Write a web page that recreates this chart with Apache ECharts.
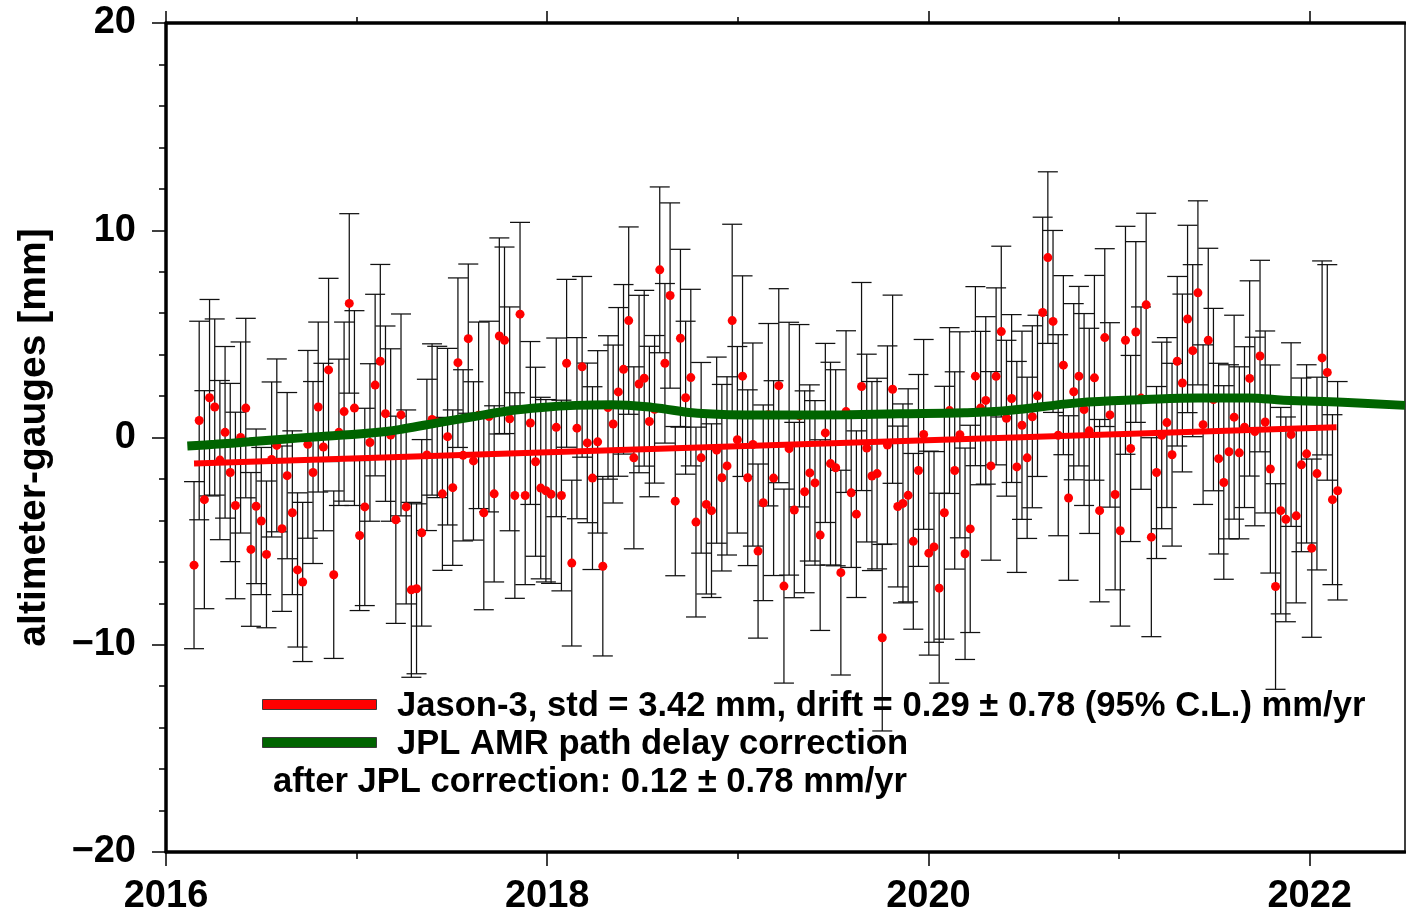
<!DOCTYPE html>
<html>
<head>
<meta charset="utf-8">
<script src="https://cdn.jsdelivr.net/npm/echarts@6/dist/echarts.min.js"></script>
<style>
html,body{margin:0;padding:0;background:#fff;}
#chart{width:1406px;height:916px;}
</style>
</head>
<body>
<div id="chart"></div>
<script>
// Jason-3 altimeter minus tide-gauge differences, one value per ~9.9156-day cycle
const firstCycleYear = 2016.147;
const cycleDays = 9.9156;
const diffValues = [
-6.16,0.82,-3.00,1.92,1.47,-1.09,0.25,-1.69,-3.28,0.00,
1.42,-5.40,-3.32,-4.03,-5.64,-1.06,-0.38,-4.40,-1.84,-3.63,
-6.39,-6.97,-0.33,-1.69,1.47,-0.46,3.26,-6.62,0.25,1.25,
6.47,1.42,-4.73,-3.35,-0.24,2.53,3.68,1.15,0.12,-3.97,
1.09,-3.35,-7.35,-7.30,-4.60,-0.84,0.87,0.75,-2.72,0.04,
-2.42,3.61,-0.86,4.77,-1.13,1.07,-3.63,1.01,-2.72,4.90,
4.69,0.90,-2.80,5.95,-2.80,0.70,-1.17,-2.44,-2.57,-2.74,
0.49,-2.80,3.58,-6.06,0.45,3.41,-0.26,-1.96,-0.21,-6.21,
1.45,0.65,2.20,3.29,5.64,-0.98,2.58,2.86,0.77,1.36,
8.09,3.58,6.85,-3.07,4.79,1.92,2.89,-4.08,-0.98,-3.23,
-3.53,-0.61,-1.94,-1.37,5.64,-0.11,2.96,-1.94,-0.34,-5.48,
-3.15,1.10,-1.96,2.50,-7.17,-0.54,-3.50,1.05,-2.62,-1.71,
-2.19,-4.71,0.22,-1.26,-1.46,-6.52,1.25,-2.67,-3.70,2.46,
-0.51,-1.86,-1.74,-9.66,-0.36,2.33,-3.33,-3.18,-2.79,-5.01,
-1.59,0.15,-5.58,-5.28,-7.27,-3.63,1.30,-1.59,0.13,-5.61,
-4.41,2.96,1.42,1.79,-1.37,2.95,5.11,0.93,1.88,-1.42,
0.59,-0.98,1.00,2.01,6.03,8.68,5.60,0.11,3.49,-2.92,
2.21,2.96,1.35,0.32,2.88,-3.53,4.82,1.09,-2.75,-4.50,
4.69,-0.53,5.09,1.90,6.40,-4.81,-1.69,0.10,0.72,-0.83,
3.68,2.63,5.72,4.19,6.98,0.62,4.69,1.83,-1.02,-2.17,
-0.69,0.98,-0.74,0.50,2.85,0.29,3.93,0.75,-1.52,-7.19,
-3.53,-3.95,0.14,-3.78,-1.32,-0.79,-5.34,-1.74,3.84,3.14,
-3.00,-2.57
];
const diffErrors = [
4.03,4.79,5.26,4.74,4.25,3.84,4.14,4.30,4.50,4.61,
4.33,3.71,3.73,3.55,3.54,3.74,4.17,3.99,4.01,3.95,
3.72,3.84,4.53,4.39,4.10,4.04,4.42,4.04,3.53,4.32,
4.33,4.70,3.62,4.76,3.80,4.38,4.67,4.23,4.16,5.00,
4.87,4.68,4.22,4.10,4.50,3.65,3.65,3.65,3.69,4.26,
3.75,4.09,4.13,3.60,3.82,4.50,4.68,4.60,4.25,4.73,
4.50,5.40,4.96,4.43,4.30,3.93,4.56,4.38,4.40,4.30,
4.31,4.60,4.05,4.00,4.37,4.36,3.85,4.41,4.40,4.33,
3.46,3.81,4.07,4.09,4.52,4.39,4.28,4.24,3.63,3.56,
4.00,3.85,4.47,3.60,4.29,3.69,4.26,4.58,4.60,4.32,
4.19,4.49,4.50,4.30,4.65,4.50,4.84,4.24,4.90,4.20,
4.72,4.40,4.70,4.68,4.68,6.10,4.23,4.40,4.87,4.25,
3.97,4.60,4.32,4.89,4.73,4.94,3.90,3.60,4.02,5.02,
4.53,4.56,4.60,4.50,4.78,4.54,3.88,4.80,5.14,4.24,
4.63,4.58,4.92,4.60,4.58,6.10,4.00,4.76,4.97,5.10,
5.00,4.32,3.70,4.04,4.55,4.27,4.12,3.76,4.05,5.09,
4.54,3.89,4.39,3.89,4.60,4.14,4.39,4.85,4.32,3.97,
4.25,4.33,4.63,4.95,4.94,4.40,4.29,4.45,4.60,4.60,
5.50,4.49,4.36,4.40,4.42,4.80,4.15,4.50,4.10,4.41,
4.09,4.29,4.52,4.15,4.44,3.85,4.44,4.40,4.60,4.67,
4.20,4.92,4.15,3.88,4.71,4.55,4.62,4.39,5.02,4.96,
4.98,4.94,4.43,4.20,4.19,4.30,4.30,4.65,4.68,5.20,
4.10,5.27
];
// Linear drift fit (Jason-3), endpoints
const fitYears = [2016.147, 2022.141];
const fitValues = [-1.25, 0.49];
// JPL AMR path delay correction curve
const amrYears = [2016.112,2016.253,2016.436,2016.614,2016.798,2016.976,2017.154,2017.248,2017.432,2017.610,
  2017.793,2017.971,2018.149,2018.338,2018.553,2018.789,2019.150,2019.585,2019.847,2020.188,
  2020.418,2020.780,2021.136,2021.414,2021.681,2021.864,2022.173,2022.500];
const amrValues = [-0.41,-0.33,-0.21,-0.08,0.04,0.14,0.29,0.42,0.72,1.00,
  1.28,1.45,1.55,1.58,1.45,1.17,1.08,1.10,1.14,1.19,
  1.30,1.67,1.83,1.91,1.91,1.80,1.70,1.55];
// Axis ticks
const xMajorTicks = [2016, 2018, 2020, 2022];
const xMinorTicks = [2017, 2019, 2021];
const legendTexts = [
  'Jason-3, std = 3.42 mm, drift = 0.29 \u00b1 0.78 (95% C.L.) mm/yr',
  'JPL AMR path delay correction',
  'after JPL correction: 0.12 \u00b1 0.78 mm/yr'
];
const yAxisName = 'altimeter-gauges [mm]';

const years = diffValues.map((v, i) => firstCycleYear + i * cycleDays / 365.25);
const pointData = diffValues.map((v, i) => [years[i], v]);
const barData = diffValues.map((v, i) => [years[i], v - diffErrors[i], v + diffErrors[i]]);
const fitData = fitYears.map((t, i) => [t, fitValues[i]]);
const amrData = amrYears.map((t, i) => [t, amrValues[i]]);

const FONT = '"Liberation Sans", Arial, Helvetica, sans-serif';
const chart = echarts.init(document.getElementById('chart'), null, {renderer: 'canvas'});

function errRender(params, api) {
  const x = api.value(0);
  const lo = api.coord([x, api.value(1)]);
  const hi = api.coord([x, api.value(2)]);
  const cap = 10;
  const st = {stroke: '#111', lineWidth: 1.25};
  return {
    type: 'group',
    children: [
      {type: 'line', shape: {x1: hi[0], y1: hi[1], x2: lo[0], y2: lo[1]}, style: st},
      {type: 'line', shape: {x1: hi[0] - cap, y1: hi[1], x2: hi[0] + cap, y2: hi[1]}, style: st},
      {type: 'line', shape: {x1: lo[0] - cap, y1: lo[1], x2: lo[0] + cap, y2: lo[1]}, style: st}
    ]
  };
}

const labelStyle = {color: '#000', fontSize: 38, fontWeight: 'bold', fontFamily: FONT};
const thick = {color: '#000', width: 3.5};

const option = {
  backgroundColor: '#fff',
  animation: false,
  grid: {left: 166, right: 1, top: 23, bottom: 64, containLabel: false},
  xAxis: [
    {type: 'value', position: 'bottom', min: 2016, max: 2022.5, splitLine: {show: false},
     axisLine: {show: true, onZero: false, lineStyle: thick},
     axisTick: {show: true, customValues: xMajorTicks, length: 14, lineStyle: {color: '#000', width: 1.5}},
     axisLabel: Object.assign({customValues: xMajorTicks, margin: 26, formatter: v => String(v)}, labelStyle)},
    {type: 'value', position: 'bottom', min: 2016, max: 2022.5, splitLine: {show: false},
     axisLine: {show: false, onZero: false},
     axisTick: {show: true, customValues: xMinorTicks, length: 7, lineStyle: {color: '#000', width: 1.5}},
     axisLabel: {show: false}},
    {type: 'value', position: 'top', min: 2016, max: 2022.5, splitLine: {show: false},
     axisLine: {show: true, onZero: false, lineStyle: thick},
     axisTick: {show: true, customValues: xMajorTicks, length: 12, lineStyle: {color: '#000', width: 1.5}},
     axisLabel: {show: false}},
    {type: 'value', position: 'top', min: 2016, max: 2022.5, splitLine: {show: false},
     axisLine: {show: false, onZero: false},
     axisTick: {show: true, customValues: xMinorTicks, length: 6, lineStyle: {color: '#000', width: 1.5}},
     axisLabel: {show: false}}
  ],
  yAxis: [
    {type: 'value', position: 'left', min: -20, max: 20, interval: 10, splitLine: {show: false},
     axisLine: {show: true, onZero: false, lineStyle: thick},
     axisTick: {show: true, length: 14, lineStyle: {color: '#000', width: 1.5}},
     axisLabel: Object.assign({margin: 30, formatter: v => String(v).replace('-', '\u2212')}, labelStyle),
     name: yAxisName, nameLocation: 'middle', nameRotate: 90, nameGap: 112,
     nameTextStyle: {color: '#000', fontSize: 39, fontWeight: 'bold', fontFamily: FONT}},
    {type: 'value', position: 'left', min: -20, max: 20, interval: 2, splitLine: {show: false},
     axisLine: {show: false, onZero: false},
     axisTick: {show: true, length: 7, lineStyle: {color: '#000', width: 1.5}},
     axisLabel: {show: false}},
    {type: 'value', position: 'right', min: -20, max: 20, interval: 10, splitLine: {show: false},
     axisLine: {show: true, onZero: false, lineStyle: {color: '#000', width: 1.5}},
     axisTick: {show: false}, axisLabel: {show: false}}
  ],
  series: [
    {type: 'custom', name: 'errors', xAxisIndex: 0, yAxisIndex: 0, renderItem: errRender,
     encode: {x: 0, y: [1, 2]}, data: barData, z: 1, silent: true},
    {type: 'scatter', name: 'Jason-3', xAxisIndex: 0, yAxisIndex: 0, data: pointData,
     symbol: 'circle', symbolSize: 9, itemStyle: {color: '#ff0000', opacity: 1}, z: 2, silent: true},
    {type: 'line', name: 'fit', xAxisIndex: 0, yAxisIndex: 0, data: fitData, showSymbol: false,
     lineStyle: {color: '#ff0000', width: 6}, z: 3, silent: true},
    {type: 'line', name: 'JPL AMR', xAxisIndex: 0, yAxisIndex: 0, data: amrData, showSymbol: false,
     smooth: 0.4, lineStyle: {color: '#006400', width: 9}, z: 4, silent: true}
  ],
  graphic: [
    {type: 'rect', left: 262, top: 699, shape: {width: 114, height: 10},
     style: {fill: '#ff0000', stroke: '#3a3a3a', lineWidth: 1}, z: 10},
    {type: 'rect', left: 262, top: 737, shape: {width: 114, height: 10},
     style: {fill: '#006400', stroke: '#3a3a3a', lineWidth: 1}, z: 10},
    {type: 'text', x: 397, y: 706, z: 10,
     style: {text: legendTexts[0], fill: '#000', font: 'bold 34.6px ' + FONT, verticalAlign: 'middle'}},
    {type: 'text', x: 397, y: 744, z: 10,
     style: {text: legendTexts[1], fill: '#000', font: 'bold 34.6px ' + FONT, verticalAlign: 'middle'}},
    {type: 'text', x: 273, y: 782, z: 10,
     style: {text: legendTexts[2], fill: '#000', font: 'bold 34.6px ' + FONT, verticalAlign: 'middle'}}
  ]
};
chart.setOption(option);
</script>
</body>
</html>
